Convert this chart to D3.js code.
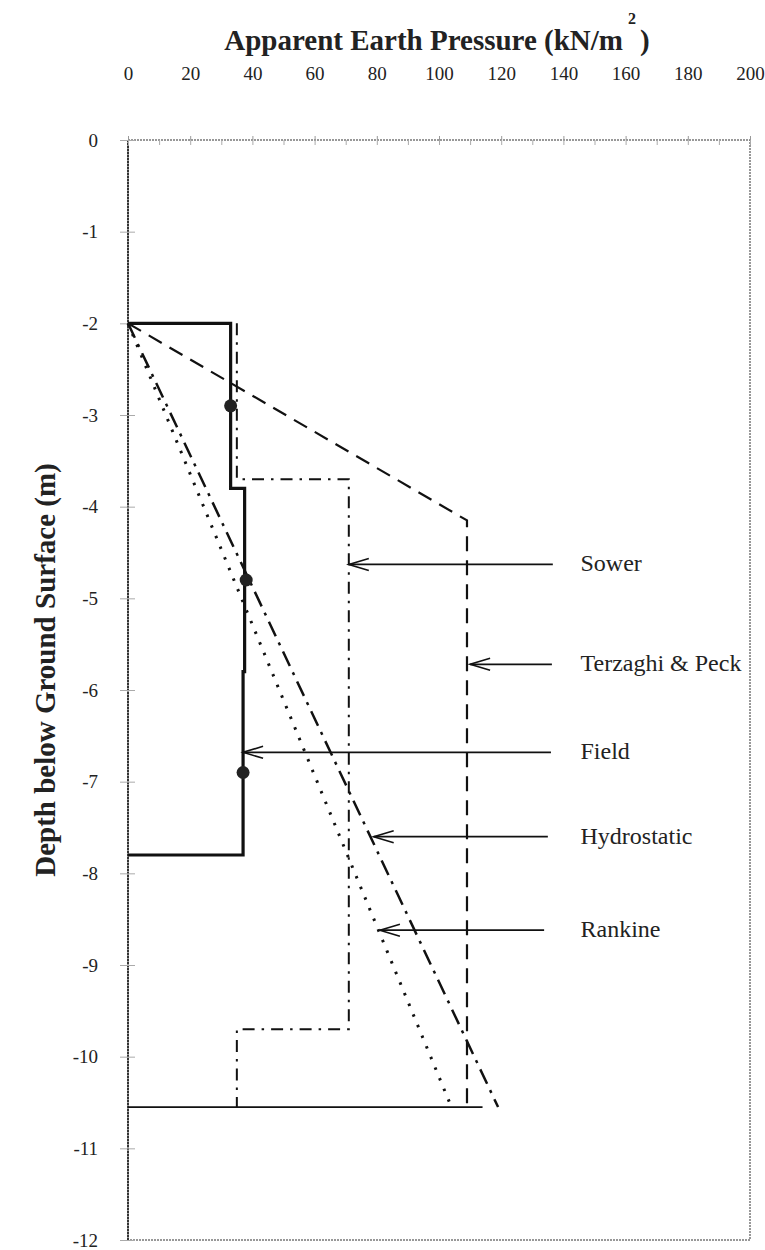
<!DOCTYPE html>
<html>
<head>
<meta charset="utf-8">
<script src="https://cdn.jsdelivr.net/npm/d3@7"></script>
<style>
  body { margin: 0; background: #fff; }
  text { font-family: "Liberation Serif", "Times New Roman", serif; fill: #222; }
</style>
</head>
<body>
<div id="chart"></div>
<script>
// pressure ticks (kN/m2) and depth ticks (m)
const xTicks = [0, 20, 40, 60, 80, 100, 120, 140, 160, 180, 200];
const xMinorTicks = [10, 30, 50, 70, 90, 110, 130, 150, 170, 190];
const yTicks = [0, -1, -2, -3, -4, -5, -6, -7, -8, -9, -10, -11, -12];

// field measurements (stepped profile) and the three points
const fieldPressure = [0, 33, 33, 37.5, 37.5, 37, 37, 0];
const fieldDepth    = [-2, -2, -3.8, -3.8, -5.8, -5.8, -7.8, -7.8];
const fieldPointP = [33, 38, 37];
const fieldPointD = [-2.9, -4.8, -6.9];

// Terzaghi & Peck envelope
const terzaghiPressure = [0, 109, 109];
const terzaghiDepth    = [-2, -4.15, -10.55];

// Sower envelope
const sowerPressure = [35, 35, 71, 71, 35, 35];
const sowerDepth    = [-2, -3.7, -3.7, -9.7, -9.7, -10.55];

// Hydrostatic and Rankine
const hydroPressure = [0, 119];
const hydroDepth    = [-2, -10.55];
const rankinePressure = [0, 104];
const rankineDepth    = [-2, -10.55];

// excavation base
const basePressure = [0, 114];
const baseDepth    = [-10.55, -10.55];

// callouts
const calloutNames = ["Sower", "Terzaghi & Peck", "Field", "Hydrostatic", "Rankine"];
const calloutDepth = [-4.63, -5.72, -6.68, -7.6, -8.62];
const calloutTip   = [71, 110, 37, 79, 81];
const calloutStart = [136.6, 136.3, 136, 135, 133.8];
const calloutLabelX = 145.5;

const W = 765, H = 1250;
const svg = d3.select("#chart").append("svg")
    .attr("width", W)
    .attr("height", H);

const x = d3.scaleLinear().domain([0, 200]).range([128, 750]);
const y = d3.scaleLinear().domain([0, -12]).range([140, 1240]);

const zip = (a, b) => a.map((v, i) => [v, b[i]]);
const line = d3.line().x(d => x(d[0])).y(d => y(d[1]));

// callout labels go first so the frame is drawn over them
const callouts = calloutNames.map((n, i) => ({
    name: n, depth: calloutDepth[i], tip: calloutTip[i], start: calloutStart[i]
}));
svg.selectAll(".clabel")
    .data(callouts)
    .enter().append("text")
    .attr("class", "clabel")
    .attr("x", x(calloutLabelX))
    .attr("y", d => y(d.depth) + 7)
    .style("font-size", "24px")
    .text(d => d.name);

// frame
svg.append("rect")
    .attr("x", x(0)).attr("y", y(0))
    .attr("width", x(200) - x(0)).attr("height", y(-12) - y(0))
    .attr("fill", "none")
    .attr("stroke", "#777")
    .attr("stroke-width", 1.5)
    .attr("stroke-dasharray", "2,1");
svg.append("line")
    .attr("x1", x(0)).attr("x2", x(0))
    .attr("y1", y(0)).attr("y2", y(-12))
    .attr("stroke", "#333")
    .attr("stroke-width", 2)
    .attr("stroke-dasharray", "2,1");

// top axis
const topAxis = svg.append("g")
    .attr("transform", `translate(0,${y(0)})`)
    .call(d3.axisTop(x).tickValues(xTicks).tickSizeInner(4).tickSizeOuter(0).tickPadding(56).tickFormat(d => d));
topAxis.select(".domain").remove();
topAxis.selectAll("line").attr("stroke", "#999");
topAxis.selectAll("text").style("font-size", "19px").attr("fill", "#333");

const topTicksIn = svg.append("g")
    .attr("transform", `translate(0,${y(0)})`)
    .call(d3.axisBottom(x).tickValues(xTicks.concat(xMinorTicks)).tickSize(5).tickFormat(""));
topTicksIn.select(".domain").remove();
topTicksIn.selectAll("line").attr("stroke", "#aaa");

// left axis
const leftAxis = svg.append("g")
    .attr("transform", `translate(${x(0)},0)`)
    .call(d3.axisLeft(y).tickValues(yTicks).tickSizeInner(8).tickSizeOuter(0).tickPadding(22)
        .tickFormat(d => d === 0 ? "0" : "-" + Math.abs(d)));
leftAxis.select(".domain").remove();
leftAxis.selectAll("line").attr("stroke", "#aaa").attr("x2", -8).attr("x1", 7);
leftAxis.selectAll("text").style("font-size", "19px").attr("fill", "#333");

// titles
const title = svg.append("text")
    .attr("x", 437).attr("y", 50)
    .attr("text-anchor", "middle")
    .style("font-size", "29px")
    .style("font-weight", "bold");
title.append("tspan").text("Apparent Earth Pressure (kN/m");
title.append("tspan").attr("dx", 5).attr("dy", -26).style("font-size", "16px").text("2");
title.append("tspan").attr("dx", 4).attr("dy", 26).text(")");

svg.append("text")
    .attr("transform", "translate(55,670) rotate(-90)")
    .attr("text-anchor", "middle")
    .style("font-size", "29px")
    .style("font-weight", "bold")
    .text("Depth below Ground Surface (m)");

// series
svg.append("path")
    .datum(zip(basePressure, baseDepth))
    .attr("d", line)
    .attr("fill", "none").attr("stroke", "#111").attr("stroke-width", 1.6);

svg.append("path")
    .datum(zip(rankinePressure, rankineDepth))
    .attr("d", line)
    .attr("fill", "none").attr("stroke", "#111").attr("stroke-width", 3)
    .attr("stroke-dasharray", "2.5,9");

svg.append("path")
    .datum(zip(hydroPressure, hydroDepth))
    .attr("d", line)
    .attr("fill", "none").attr("stroke", "#111").attr("stroke-width", 2.5)
    .attr("stroke-dasharray", "16,7,3,7");

svg.append("path")
    .datum(zip(sowerPressure, sowerDepth))
    .attr("d", line)
    .attr("fill", "none").attr("stroke", "#111").attr("stroke-width", 2)
    .attr("stroke-dasharray", "12,7,2.5,7");

svg.append("path")
    .datum(zip(terzaghiPressure, terzaghiDepth))
    .attr("d", line)
    .attr("fill", "none").attr("stroke", "#111").attr("stroke-width", 2.2)
    .attr("stroke-dasharray", "15,9");

svg.append("path")
    .datum(zip(fieldPressure, fieldDepth))
    .attr("d", line)
    .attr("fill", "none").attr("stroke", "#111").attr("stroke-width", 3.2);

svg.selectAll(".pt")
    .data(zip(fieldPointP, fieldPointD))
    .enter().append("circle")
    .attr("class", "pt")
    .attr("cx", d => x(d[0]))
    .attr("cy", d => y(d[1]))
    .attr("r", 6.5)
    .attr("fill", "#222");

// callout arrows
const cg = svg.selectAll(".callout")
    .data(callouts)
    .enter().append("g")
    .attr("class", "callout");

cg.append("line")
    .attr("x1", d => x(d.start)).attr("x2", d => x(d.tip))
    .attr("y1", d => y(d.depth)).attr("y2", d => y(d.depth))
    .attr("stroke", "#111").attr("stroke-width", 1.6);

cg.append("path")
    .attr("d", d => {
        const tx = x(d.tip), ty = y(d.depth);
        return `M${tx + 20},${ty - 6} L${tx},${ty} L${tx + 20},${ty + 6}`;
    })
    .attr("fill", "none").attr("stroke", "#111").attr("stroke-width", 1.6);
</script>
</body>
</html>
